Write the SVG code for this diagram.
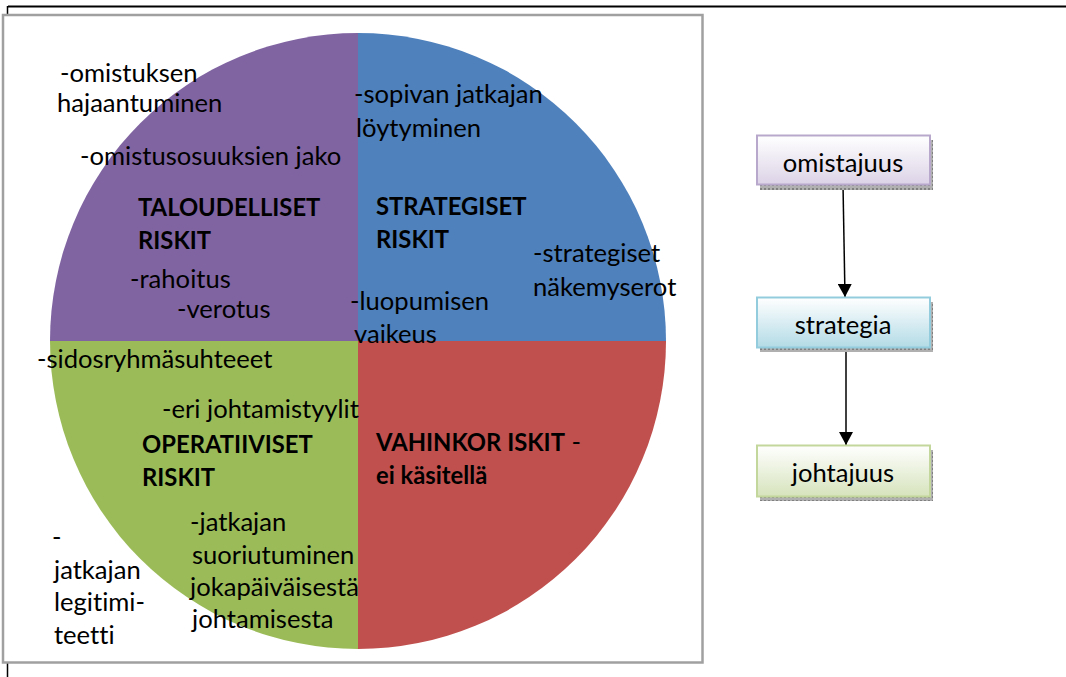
<svg xmlns="http://www.w3.org/2000/svg" width="1066" height="677" viewBox="0 0 1066 677">
  <style>
    .t { font-family: Lato, "Liberation Sans", sans-serif; font-size: 25.6px; fill: #000; font-variant-ligatures: none; }
    .b { font-weight: bold; font-size: 23.8px; }
    .box-text { font-family: Lato, "Liberation Sans", sans-serif; font-size: 25.6px; text-anchor: middle; fill: #000; font-variant-ligatures: none; }
    .conn { stroke: #000; stroke-width: 1.5; fill: none; marker-end: url(#arrow); }
    .shadow { fill: url(#hatch); }
  </style>
  <defs>
    <marker id="arrow" markerWidth="13" markerHeight="14" refX="13" refY="7" orient="auto" markerUnits="userSpaceOnUse">
      <path d="M0,0 L13,7 L0,14 Z" fill="#000"/>
    </marker>
    <pattern id="hatch" width="4" height="4" patternUnits="userSpaceOnUse">
      <rect width="4" height="4" fill="#b0b0b0"/>
      <rect width="2" height="2" fill="#808080"/>
    </pattern>
    <linearGradient id="gPurple" x1="0" y1="0" x2="0" y2="1">
      <stop offset="0" stop-color="#ffffff"/>
      <stop offset="1" stop-color="#dcd3e7"/>
    </linearGradient>
    <linearGradient id="gBlue" x1="0" y1="0" x2="0" y2="1">
      <stop offset="0" stop-color="#ffffff"/>
      <stop offset="1" stop-color="#b3dbe6"/>
    </linearGradient>
    <linearGradient id="gGreen" x1="0" y1="0" x2="0" y2="1">
      <stop offset="0" stop-color="#ffffff"/>
      <stop offset="1" stop-color="#d6e3bc"/>
    </linearGradient>
  </defs>

  <!-- page rules -->
  <line x1="8" y1="6.5" x2="1066" y2="6.5" stroke="#000" stroke-width="2"/>
  <line x1="7.5" y1="6" x2="7.5" y2="677" stroke="#000" stroke-width="1.5"/>

  <!-- chart frame -->
  <rect x="3" y="15" width="699.5" height="647.5" fill="#fff" stroke="#a0a0a0" stroke-width="2.5"/>

  <!-- pie quadrants -->
  <g id="pie">
    <path d="M358,341 L358,33 A308,308 0 0 1 666,341 Z" fill="#4f81bd"/>
    <path d="M358,341 L666,341 A308,308 0 0 1 358,649 Z" fill="#c0504d"/>
    <path d="M358,341 L358,649 A308,308 0 0 1 50,341 Z" fill="#9bbb59"/>
    <path d="M358,341 L50,341 A308,308 0 0 1 358,33 Z" fill="#8064a2"/>
  </g>

  <!-- financial risks -->
  <g id="taloudelliset">
    <text class="t" x="60" y="82">-omistuksen</text>
    <text class="t" x="57" y="112">hajaantuminen</text>
    <text class="t" x="80" y="165">-omistusosuuksien jako</text>
    <text class="t b" x="138" y="216">TALOUDELLISET</text>
    <text class="t b" x="138" y="249">RISKIT</text>
    <text class="t" x="130" y="288">-rahoitus</text>
    <text class="t" x="177" y="318">-verotus</text>
  </g>

  <!-- strategic risks -->
  <g id="strategiset">
    <text class="t" x="354" y="103">-sopivan jatkajan</text>
    <text class="t" x="356" y="137">löytyminen</text>
    <text class="t b" x="376" y="215">STRATEGISET</text>
    <text class="t b" x="376" y="248">RISKIT</text>
    <text class="t" x="533" y="262">-strategiset</text>
    <text class="t" x="533" y="296">näkemyserot</text>
    <text class="t" x="350" y="310">-luopumisen</text>
    <text class="t" x="354" y="343">vaikeus</text>
  </g>

  <!-- operative risks -->
  <g id="operatiiviset">
    <text class="t" x="37" y="368">-sidosryhmäsuhteeet</text>
    <text class="t" x="162" y="418">-eri johtamistyylit</text>
    <text class="t b" x="142" y="453">OPERATIIVISET</text>
    <text class="t b" x="142" y="486">RISKIT</text>
    <text class="t" x="52" y="546">-</text>
    <text class="t" x="54" y="579">jatkajan</text>
    <text class="t" x="54" y="611">legitimi-</text>
    <text class="t" x="54" y="644">teetti</text>
    <text class="t" x="190" y="531">-jatkajan</text>
    <text class="t" x="192" y="564">suoriutuminen</text>
    <text class="t" x="190" y="596">jokapäiväisestä</text>
    <text class="t" x="192" y="628">johtamisesta</text>
  </g>

  <!-- damage risks -->
  <g id="vahinkoriskit">
    <text class="t" x="376" y="451"><tspan class="b">VAHINKOR ISKIT</tspan> -</text>
    <text class="t b" x="376" y="484">ei käsitellä</text>
  </g>

  <!-- connectors -->
  <g id="connectors">
    <line class="conn" x1="843" y1="185" x2="845" y2="297"/>
    <line class="conn" x1="846" y1="348" x2="846" y2="445"/>
  </g>

  <!-- flow boxes -->
  <g id="omistajuus">
    <rect class="shadow" x="760" y="140" width="173" height="50"/>
    <rect x="757" y="135.5" width="173" height="49" fill="url(#gPurple)" stroke="#b8a9cc" stroke-width="2"/>
    <text class="box-text" x="843" y="172">omistajuus</text>
  </g>
  <g id="strategia">
    <rect class="shadow" x="760" y="302" width="173" height="50"/>
    <rect x="757" y="297.5" width="173" height="50" fill="url(#gBlue)" stroke="#93cddd" stroke-width="2"/>
    <text class="box-text" x="843" y="334">strategia</text>
  </g>
  <g id="johtajuus">
    <rect class="shadow" x="760" y="450" width="173" height="51"/>
    <rect x="757" y="445.5" width="173" height="51" fill="url(#gGreen)" stroke="#c3d69b" stroke-width="2"/>
    <text class="box-text" x="843" y="482">johtajuus</text>
  </g>
</svg>
